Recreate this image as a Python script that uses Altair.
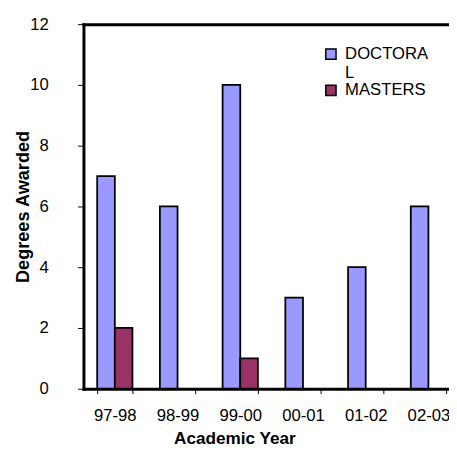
import altair as alt
import pandas as pd

years = ["97-98", "98-99", "99-00", "00-01", "01-02", "02-03"]
doctoral = [7, 6, 10, 3, 4, 6]
masters = [2, 0, 1, 0, 0, 0]
series = ["DOCTORAL", "MASTERS"]
colors = ["#9999FF", "#993366"]
y_ticks = [0, 2, 4, 6, 8, 10, 12]

rows = []
for i, yr in enumerate(years):
    rows.append({"year": yr, "degree": series[0], "value": doctoral[i]})
    rows.append({"year": yr, "degree": series[1], "value": masters[i]})
df = pd.DataFrame(rows)

FONT = "Liberation Sans"

xscale = alt.Scale(domain=years, range=[0, 384], paddingInner=0.4375, paddingOuter=0.21875)
yscale = alt.Scale(domain=[0, 12], nice=False)

legend = alt.Legend(title=None, orient="none", legendX=244, legendY=22,
                    symbolType="square", symbolSize=110,
                    labelFontSize=17, labelFont=FONT, labelColor="black",
                    labelOffset=6, padding=0, rowPadding=0,
                    labelExpr="datum.label == 'DOCTORAL' ? ['DOCTORA', 'L'] : datum.label")

chart = alt.Chart(df).transform_filter("datum.value > 0").mark_bar(
    strokeWidth=1.8
).encode(
    x=alt.X("year:N", sort=years, scale=xscale,
            axis=alt.Axis(title="Academic Year", orient="bottom", labelAngle=0,
                          tickBand="extent", tickSize=5, tickColor="black",
                          domainColor="black", domainWidth=3, domainCap="square",
                          labelFontSize=17, labelFont=FONT, labelColor="black",
                          labelPadding=14,
                          titleFontSize=17.5, titleFont=FONT, titleFontWeight="bold",
                          titleX=154, titleY=51, titleBaseline="middle", titleAlign="center")),
    xOffset=alt.XOffset("degree:N", scale=alt.Scale(domain=series, paddingInner=0, paddingOuter=0)),
    y=alt.Y("value:Q", scale=yscale,
            axis=alt.Axis(title="Degrees Awarded", values=y_ticks, grid=True,
                          gridColor={"condition": {"test": "datum.value == 12", "value": "black"},
                                     "value": "transparent"},
                          gridWidth=3, gridCap="square",
                          tickSize=6, tickColor="black", domainColor="black",
                          domainWidth=3, domainCap="square",
                          labelFontSize=17, labelFont=FONT, labelColor="black",
                          labelPadding=30,
                          titleFontSize=18.5, titleFont=FONT, titleFontWeight="bold",
                          titleX=-62, titleY=186, titleBaseline="middle",
                          titleAlign="center", titleAngle=-90)),
    fill=alt.Fill("degree:N", scale=alt.Scale(domain=series, range=colors), legend=legend),
    stroke=alt.value("black"),
).properties(
    width=373, height=372,
    autosize=alt.AutoSizeParams(type="none"),
    padding={"left": 77, "top": 12, "right": 0, "bottom": 57},
).configure_view(stroke=None).configure_legend(
    symbolStrokeColor="black", symbolStrokeWidth=2
).configure(background="white")

chart.save("out.html", embed_options={"renderer": "svg", "actions": False})
